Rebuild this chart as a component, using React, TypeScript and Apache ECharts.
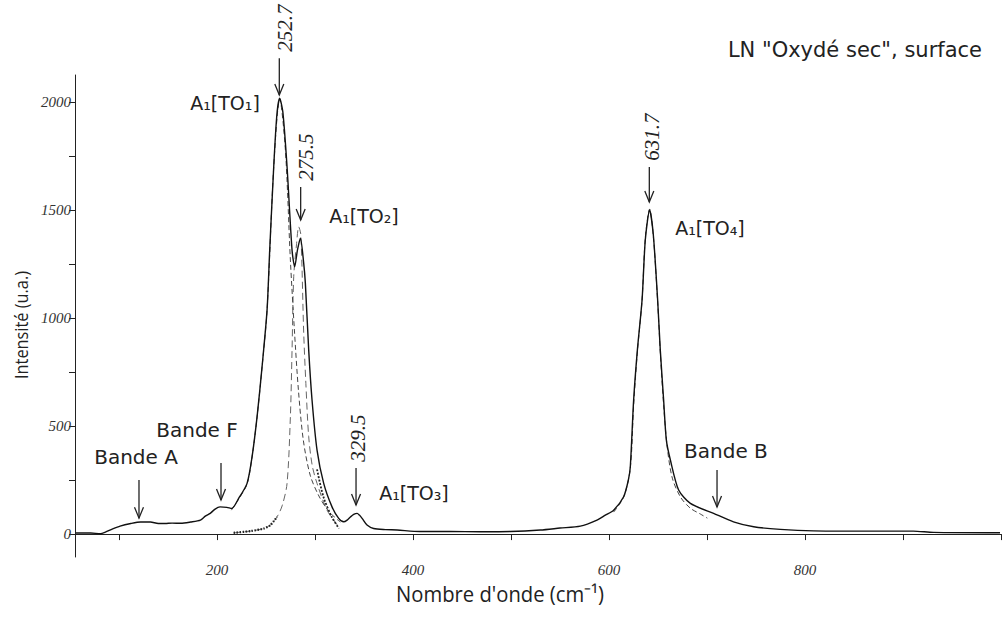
import React, { useEffect, useRef } from "react";
import * as echarts from "echarts";

// ---- Measured spectrum (wavenumber cm-1, intensity a.u.) ----
const wavenumber = [
  56, 71, 81, 86, 93, 101, 112, 122, 132, 140, 147, 154, 163, 173, 183, 188, 193, 198, 203, 210,
  215, 222, 230.6, 235.7, 240.8, 245.9, 251, 253.7, 257.8, 261, 263.9, 267.1, 271.4, 276.5, 279.2,
  282, 285, 288.4, 290.1, 293.5, 296.9, 302, 308.8, 317.3, 324.1, 329.2, 332.7, 336, 339.4, 342.9,
  345.2, 348, 353, 359.8, 371.7, 383.7, 407, 438, 468.7, 499, 530, 550, 570.7, 587.7, 596.2, 604.7,
  614.9, 619.7, 621.7, 625.1, 628.9, 633.7, 637, 641.4, 645.2, 649.6, 652.3, 655.7, 658.5, 662.6,
  671, 683, 706.7, 727, 747.6, 774.8, 808.8, 856, 910.5, 931, 999,
];
const intensity = [
  5, 5, 2, 9, 23, 37, 49, 56, 56, 49, 49, 51, 50, 56, 65, 83, 96, 116, 126, 124,
  119, 165, 235, 358, 543, 775, 1037, 1315, 1701, 1941, 2018, 1955, 1701, 1315, 1238,
  1315, 1370, 1254, 1161, 852, 621, 389, 235, 126, 73, 57, 65, 79, 91, 96,
  88, 73, 42, 26, 21, 19, 12, 12, 11, 12, 19, 28, 37, 65, 88, 111,
  173, 250, 312, 621, 852, 1084, 1362, 1501, 1385, 1084, 852, 621, 435, 343,
  204, 142, 96, 57, 34, 22, 15, 14, 14, 8, 6,
];

// ---- Fitted components ----
const fitTO1X = [214.6, 222, 230.6, 235.7, 240.8, 245.9, 251, 257.8, 263.9, 269.7, 274.8, 278.9, 283, 288, 295, 303.4, 311.5, 319.7, 325.8];
const fitTO1Y = [111, 162, 232, 357, 542, 773, 1037, 1700, 2015, 1779, 1269, 945, 667, 435, 273, 181, 120, 79, 56];

const fitTO2X = [216.9, 234, 247.6, 254.4, 261.2, 266.6, 271.4, 274.8, 276.5, 278.2, 281, 283.3, 285.5, 288.4, 290.6, 293.5, 297.2, 302, 312.2, 324.1];
const fitTO2Y = [6, 14, 26, 42, 80, 134, 235, 543, 852, 1192, 1339, 1423, 1385, 931, 698, 451, 315, 235, 111, 34];

const fitBaseX = [216.9, 234, 247.6, 254.4, 261.2];
const fitBaseY = [6, 14, 26, 42, 80];

const fitTailX = [302, 308.5, 317, 324.4];
const fitTailY = [300, 173, 80, 26];

const fitTO4X = [604.7, 614.9, 621.7, 625.1, 628.9, 633.7, 637, 641.4, 645.2, 649.6, 652.3, 655.7, 659.5, 664.6, 673, 683, 693.2, 700.3];
const fitTO4Y = [102, 171, 306, 597, 843, 1084, 1371, 1505, 1380, 1075, 843, 597, 398, 259, 171, 120, 93, 74];

// ---- Axis ticks ----
const xTickValues = [100, 200, 300, 400, 500, 600, 700, 800, 900, 1000];
const xLabelValues = [200, 400, 600, 800];
const yTickValues = [0, 250, 500, 750, 1000, 1250, 1500, 1750, 2000];
const yLabelValues = [0, 500, 1000, 1500, 2000];

// ---- Annotations (data coordinates) ----
const peakNotes = [
  { text: "252.7", x: 263.5, top: 2204, tip: 2033, lx: 268.8, ly: 2343 },
  { text: "275.5", x: 285.3, top: 1607, tip: 1454, lx: 290.7, ly: 1746 },
  { text: "329.5", x: 341.8, top: 305.6, tip: 134.3, lx: 344.3, ly: 444.6 },
  { text: "631.7", x: 641.1, top: 1699.6, tip: 1537.5, lx: 644.3, ly: 1838.5 },
];
const bandNotes = [
  { text: "Bande A", x: 120.3, top: 250, tip: 74, lx: 117.3, ly: 356.6 },
  { text: "Bande F", x: 204, top: 328.8, tip: 157.5, lx: 179.5, ly: 481.6 },
  { text: "Bande B", x: 710.2, top: 296.4, tip: 125, lx: 719.3, ly: 384.4 },
];
const modeNotes = [
  { text: "A₁[TO₁]", lx: 208.1, ly: 1996 },
  { text: "A₁[TO₂]", lx: 349.9, ly: 1472.7 },
  { text: "A₁[TO₃]", lx: 400.9, ly: 189.9 },
  { text: "A₁[TO₄]", lx: 703, ly: 1417 },
];

const pairs = (xs: number[], ys: number[]) => xs.map((x, i) => [x, ys[i]]);

export default function App() {
  const ref = useRef<HTMLDivElement>(null);
  useEffect(() => {
    if (!ref.current) return;
    const chart = echarts.init(ref.current, null, { renderer: "svg" });
    const labelStyle = {
      fontFamily: "Liberation Serif",
      fontStyle: "italic" as const,
      fontSize: 15,
      color: "#333",
      formatter: (v: number) => String(v),
    };
    const lineBase = { showSymbol: false, symbol: "none", animation: false, silent: true };
    chart.setOption({
      animation: false,
      grid: { left: 75, right: 4, top: 75, bottom: 60 },
      xAxis: {
        type: "value",
        min: 55,
        max: 1000,
        axisLine: { lineStyle: { color: "#222", width: 1 } },
        axisTick: { show: true, length: 6, customValues: xTickValues, lineStyle: { color: "#222" } },
        axisLabel: { ...labelStyle, margin: 5, customValues: xLabelValues },
        splitLine: { show: false },
      },
      yAxis: {
        type: "value",
        min: -106,
        max: 2126,
        axisLine: { show: true, lineStyle: { color: "#222", width: 1 } },
        axisTick: { show: true, length: 6, customValues: yTickValues, lineStyle: { color: "#222" } },
        axisLabel: { ...labelStyle, margin: 4, customValues: yLabelValues },
        splitLine: { show: false },
      },
      series: [
        {
          ...lineBase,
          type: "line",
          data: pairs(fitTO2X, fitTO2Y),
          smooth: 0.3,
          lineStyle: { color: "#666", width: 1, type: [7, 4] },
        },
        {
          ...lineBase,
          type: "line",
          data: pairs(fitTO1X, fitTO1Y),
          smooth: 0.3,
          lineStyle: { color: "#444", width: 1, type: [5, 3] },
        },
        {
          ...lineBase,
          type: "line",
          data: pairs(fitBaseX, fitBaseY),
          smooth: 0.3,
          lineStyle: { color: "#222", width: 2.2, type: [1.5, 1.5] },
        },
        {
          ...lineBase,
          type: "line",
          data: pairs(fitTailX, fitTailY),
          smooth: 0.3,
          lineStyle: { color: "#222", width: 1.8, type: [2, 1.5] },
        },
        {
          ...lineBase,
          type: "line",
          data: pairs(fitTO4X, fitTO4Y),
          smooth: 0.3,
          lineStyle: { color: "#444", width: 1, type: [5, 3] },
        },
        {
          ...lineBase,
          type: "line",
          data: pairs(wavenumber, intensity),
          smooth: 0.25,
          lineStyle: { color: "#111", width: 1.4 },
        },
      ],
    });

    const toPx = (x: number, y: number) =>
      chart.convertToPixel({ xAxisIndex: 0, yAxisIndex: 0 }, [x, y]) as number[];

    const graphics: any[] = [];
    const arrow = (x: number, top: number, tip: number) => {
      const a = toPx(x, top);
      const b = toPx(x, tip);
      graphics.push({
        type: "line",
        silent: true,
        shape: { x1: a[0], y1: a[1], x2: b[0], y2: b[1] },
        style: { stroke: "#222", lineWidth: 1.3 },
      });
      graphics.push({
        type: "polyline",
        silent: true,
        shape: { points: [[b[0] - 4.5, b[1] - 11], [b[0], b[1]], [b[0] + 4.5, b[1] - 11]] },
        style: { stroke: "#222", lineWidth: 1.3, fill: null },
      });
    };
    peakNotes.forEach((n) => {
      arrow(n.x, n.top, n.tip);
      const p = toPx(n.lx, n.ly);
      graphics.push({
        type: "text",
        silent: true,
        x: p[0],
        y: p[1],
        rotation: Math.PI / 2,
        style: {
          text: n.text,
          x: 0,
          y: 0,
          align: "center",
          verticalAlign: "middle",
          fill: "#222",
          font: 'italic 21px "Liberation Serif"',
        },
      });
    });
    bandNotes.forEach((n) => {
      arrow(n.x, n.top, n.tip);
      const p = toPx(n.lx, n.ly);
      graphics.push({
        type: "text",
        silent: true,
        x: p[0],
        y: p[1],
        style: {
          text: n.text,
          align: "center",
          verticalAlign: "middle",
          fill: "#222",
          font: '20px "DejaVu Sans"',
        },
      });
    });
    modeNotes.forEach((n) => {
      const p = toPx(n.lx, n.ly);
      graphics.push({
        type: "text",
        silent: true,
        x: p[0],
        y: p[1],
        style: {
          text: n.text,
          align: "center",
          verticalAlign: "middle",
          fill: "#222",
          font: '19px "DejaVu Sans"',
        },
      });
    });
    graphics.push({
      type: "text",
      silent: true,
      x: 982,
      y: 50,
      style: {
        text: 'LN "Oxydé sec", surface',
        align: "right",
        verticalAlign: "middle",
        fill: "#222",
        font: '21px "DejaVu Sans"',
      },
    });
    graphics.push({
      type: "text",
      silent: true,
      x: 500,
      y: 593,
      scaleX: 0.92,
      style: {
        text: "Nombre d'onde (cm⁻¹)",
        align: "center",
        verticalAlign: "middle",
        fill: "#222",
        font: '22px "Open Sans"',
      },
    });
    graphics.push({
      type: "text",
      silent: true,
      x: 20,
      y: 325,
      rotation: Math.PI / 2,
      scaleX: 0.86,
      style: {
        text: "Intensité (u.a.)",
        align: "center",
        verticalAlign: "middle",
        fill: "#222",
        font: '19px "Open Sans"',
      },
    });
    chart.setOption({ graphic: graphics });

    return () => chart.dispose();
  }, []);
  return (
    <div
      ref={ref}
      style={{ position: "fixed", left: 0, top: 0, width: 1005, height: 617, background: "#fff" }}
    />
  );
}
